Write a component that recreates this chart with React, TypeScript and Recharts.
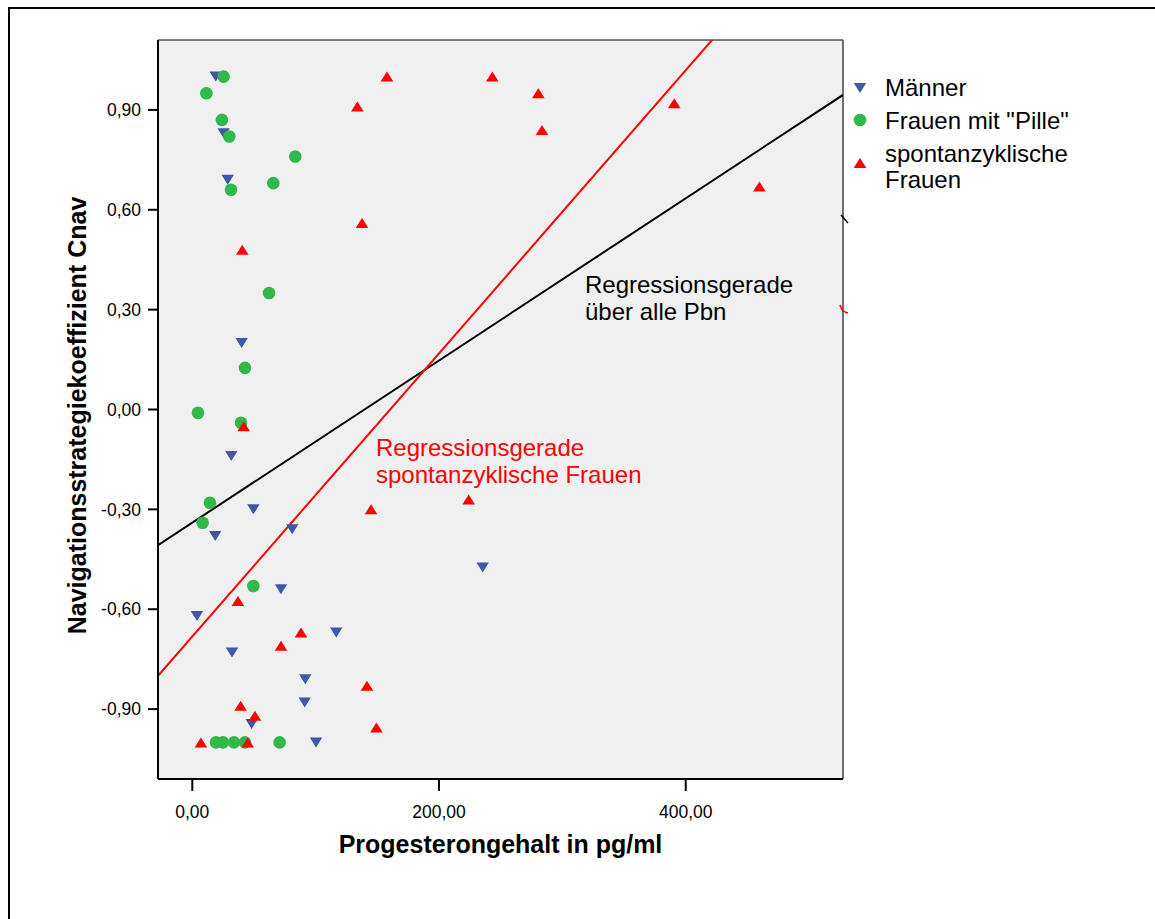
import React from 'react';
import {
  ScatterChart,
  Scatter,
  XAxis,
  YAxis,
  CartesianGrid,
  ReferenceLine,
  Legend,
} from 'recharts';

const FONT = '"Liberation Sans", Arial, Helvetica, sans-serif';

// Axis ranges and ticks
const X_MIN = -27.8;
const X_MAX = 527.5;
const Y_MIN = -1.11;
const Y_MAX = 1.11;
const X_TICKS = [0, 200, 400];
const Y_TICKS = [-0.9, -0.6, -0.3, 0, 0.3, 0.6, 0.9];

// Series: [Progesterongehalt, Cnav]
const MAENNER: [number, number][] = [
  [19, 1.0], [25.4, 0.83], [28.7, 0.69], [40, 0.2], [31.6, -0.14], [49.5, -0.3],
  [18.6, -0.38], [81, -0.36], [71.9, -0.54], [3.8, -0.62], [116.7, -0.67],
  [32.2, -0.73], [91.6, -0.81], [91.1, -0.88], [48.1, -0.945], [100.3, -1.0],
  [235.4, -0.475],
];
const PILLE: [number, number][] = [
  [25.4, 1.0], [11.4, 0.95], [24, 0.87], [30, 0.82], [83.5, 0.76], [65.7, 0.68],
  [31.4, 0.66], [62.2, 0.35], [42.7, 0.125], [4.6, -0.01], [39.5, -0.04],
  [14.3, -0.28], [8.4, -0.34], [49.5, -0.53], [19.2, -1.0], [24.9, -1.0],
  [33.8, -1.0], [42.7, -1.0], [70.8, -1.0],
];
const SPONTAN: [number, number][] = [
  [157.8, 1.0], [133.8, 0.91], [243.2, 1.0], [280.5, 0.95], [283.5, 0.84],
  [390.7, 0.92], [459.7, 0.67], [137.6, 0.56], [40.5, 0.48], [41.7, -0.05],
  [224.1, -0.27], [144.9, -0.3], [37, -0.575], [88.1, -0.67], [71.9, -0.71],
  [141.6, -0.83], [39.2, -0.89], [50.8, -0.92], [149.3, -0.955], [7, -1.0],
  [44.9, -1.0],
];

// Regression lines (intercept, slope)
const FIT_ALL = { intercept: -0.34, slope: 0.002436 };
const FIT_SPONTAN = { intercept: -0.682, slope: 0.004253 };

const BLUE = '#3E56AC';
const GREEN = '#30B84B';
const RED = '#FF0000';

const SERIES = [
  { name: 'Männer', color: BLUE, kind: 'down', data: MAENNER },
  { name: 'Frauen mit "Pille"', color: GREEN, kind: 'circle', data: PILLE },
  { name: 'spontanzyklische Frauen', color: RED, kind: 'up', data: SPONTAN },
];

const toPoints = (arr: [number, number][]) => arr.map(([x, y]) => ({ x, y }));
const fmt = (v: number) => v.toFixed(2).replace('.', ',');
const fitAt = (f: { intercept: number; slope: number }, x: number) => f.intercept + f.slope * x;

const makeShape = (kind: string, color: string) => (props: any) => {
  const { cx, cy } = props;
  if (cx == null || cy == null) return <g />;
  if (kind === 'circle') return <circle cx={cx} cy={cy} r={6.3} fill={color} />;
  if (kind === 'down')
    return <polygon points={`${cx - 6.2},${cy - 5} ${cx + 6.2},${cy - 5} ${cx},${cy + 5}`} fill={color} />;
  return <polygon points={`${cx},${cy - 5} ${cx + 6.3},${cy + 5} ${cx - 6.3},${cy + 5}`} fill={color} />;
};

const LegendMarker = ({ kind, color }: { kind: string; color: string }) => (
  <svg width={16} height={16} style={{ display: 'block' }}>
    {makeShape(kind, color)({ cx: 8, cy: 8 })}
  </svg>
);

const renderLegend = () => {
  const rows = [
    { s: SERIES[0], top: 0, lines: ['Männer'], markerY: 13 },
    { s: SERIES[1], top: 33, lines: ['Frauen mit "Pille"'], markerY: 12 },
    { s: SERIES[2], top: 66, lines: ['spontanzyklische', 'Frauen'], markerY: 22 },
  ];
  return (
    <div style={{ position: 'relative', width: 300, height: 130, fontFamily: FONT }}>
      {rows.map((r) => (
        <div key={r.s.name} style={{ position: 'absolute', left: 0, top: r.top }}>
          <div style={{ position: 'absolute', left: 2, top: r.markerY - 8 }}>
            <LegendMarker kind={r.s.kind} color={r.s.color} />
          </div>
          <div
            style={{
              position: 'absolute',
              left: 35,
              top: 0,
              fontSize: 24,
              lineHeight: '26px',
              color: '#000',
              whiteSpace: 'nowrap',
            }}
          >
            {r.lines.map((l) => (
              <div key={l}>{l}</div>
            ))}
          </div>
        </div>
      ))}
    </div>
  );
};

const YTitle = (props: any) => {
  const vb = props.viewBox || { x: 0, y: 40, width: 158, height: 739 };
  const cx = 86;
  const cy = vb.y + vb.height / 2 + 6;
  return (
    <text
      x={cx}
      y={cy}
      transform={`rotate(-90 ${cx} ${cy})`}
      textAnchor="middle"
      fontFamily={FONT}
      fontSize={25}
      fontWeight="bold"
      fill="#000"
    >
      Navigationsstrategiekoeffizient Cnav
    </text>
  );
};

const XTitle = (props: any) => {
  const vb = props.viewBox || { x: 158, y: 779, width: 685, height: 140 };
  return (
    <text
      x={vb.x + vb.width / 2}
      y={853}
      textAnchor="middle"
      fontFamily={FONT}
      fontSize={25}
      fontWeight="bold"
      fill="#000"
    >
      Progesterongehalt in pg/ml
    </text>
  );
};

export default function App() {
  return (
    <div
      style={{
        position: 'fixed',
        left: 0,
        top: 0,
        width: 1155,
        height: 919,
        overflow: 'hidden',
        background: '#fff',
        fontFamily: FONT,
      }}
    >
      <div
        style={{
          position: 'absolute',
          left: 8,
          top: 7,
          width: 1200,
          height: 1000,
          borderTop: '2px solid #000',
          borderLeft: '2px solid #000',
        }}
      />
      <div style={{ position: 'absolute', left: 0, top: 0 }}>
        <ScatterChart
          width={1155}
          height={919}
          margin={{ top: 40, right: 312, bottom: 0, left: 0 }}
        >
          <CartesianGrid horizontal={false} vertical={false} fill="#F0F0F0" stroke="none" />
          <XAxis
            type="number"
            dataKey="x"
            domain={[X_MIN, X_MAX]}
            ticks={X_TICKS}
            allowDataOverflow
            height={140}
            tickSize={12}
            tickMargin={15}
            tickFormatter={fmt}
            axisLine={{ stroke: '#000', strokeWidth: 2 }}
            tickLine={{ stroke: '#000', strokeWidth: 2 }}
            tick={{ fill: '#000', fontSize: 17.5, fontFamily: FONT }}
            label={<XTitle />}
          />
          <YAxis
            type="number"
            dataKey="y"
            domain={[Y_MIN, Y_MAX]}
            ticks={Y_TICKS}
            allowDataOverflow
            width={158}
            tickSize={10}
            tickMargin={7}
            tickFormatter={fmt}
            axisLine={{ stroke: '#000', strokeWidth: 2 }}
            tickLine={{ stroke: '#000', strokeWidth: 2 }}
            tick={{ fill: '#000', fontSize: 17.5, fontFamily: FONT }}
            label={<YTitle />}
          />
          <ReferenceLine y={Y_MAX} stroke="#000" strokeWidth={1} ifOverflow="visible" />
          <ReferenceLine x={X_MAX} stroke="#444" strokeWidth={1.5} ifOverflow="visible" />
          <ReferenceLine
            segment={[
              { x: X_MIN, y: fitAt(FIT_ALL, X_MIN) },
              { x: X_MAX, y: fitAt(FIT_ALL, X_MAX) },
            ]}
            stroke="#000"
            strokeWidth={2}
            ifOverflow="hidden"
          />
          <ReferenceLine
            segment={[
              { x: X_MIN, y: fitAt(FIT_SPONTAN, X_MIN) },
              { x: X_MAX, y: fitAt(FIT_SPONTAN, X_MAX) },
            ]}
            stroke={RED}
            strokeWidth={2}
            ifOverflow="hidden"
          />
          {SERIES.map((s) => (
            <Scatter
              key={s.name}
              name={s.name}
              data={toPoints(s.data)}
              fill={s.color}
              shape={makeShape(s.kind, s.color)}
              isAnimationActive={false}
            />
          ))}
          <Legend
            layout="vertical"
            align="center"
            verticalAlign="middle"
            content={renderLegend}
            wrapperStyle={{ left: 850, top: 75, width: 300, height: 130 }}
          />
        </ScatterChart>
      </div>
      <div
        style={{
          position: 'absolute',
          left: 585,
          top: 271,
          fontSize: 24,
          lineHeight: '27px',
          color: '#000',
          whiteSpace: 'nowrap',
        }}
      >
        <div>Regressionsgerade</div>
        <div>über alle Pbn</div>
      </div>
      <div
        style={{
          position: 'absolute',
          left: 376,
          top: 434,
          fontSize: 24,
          lineHeight: '27px',
          color: RED,
          whiteSpace: 'nowrap',
        }}
      >
        <div>Regressionsgerade</div>
        <div>spontanzyklische Frauen</div>
      </div>
      <svg
        style={{ position: 'absolute', left: 830, top: 200 }}
        width={30}
        height={130}
      >
        <line x1={11} y1={15} x2={18} y2={23} stroke="#000" strokeWidth={1.5} />
        <path d="M 10 105 Q 12 112 18 113" stroke={RED} strokeWidth={1.5} fill="none" />
      </svg>
    </div>
  );
}
